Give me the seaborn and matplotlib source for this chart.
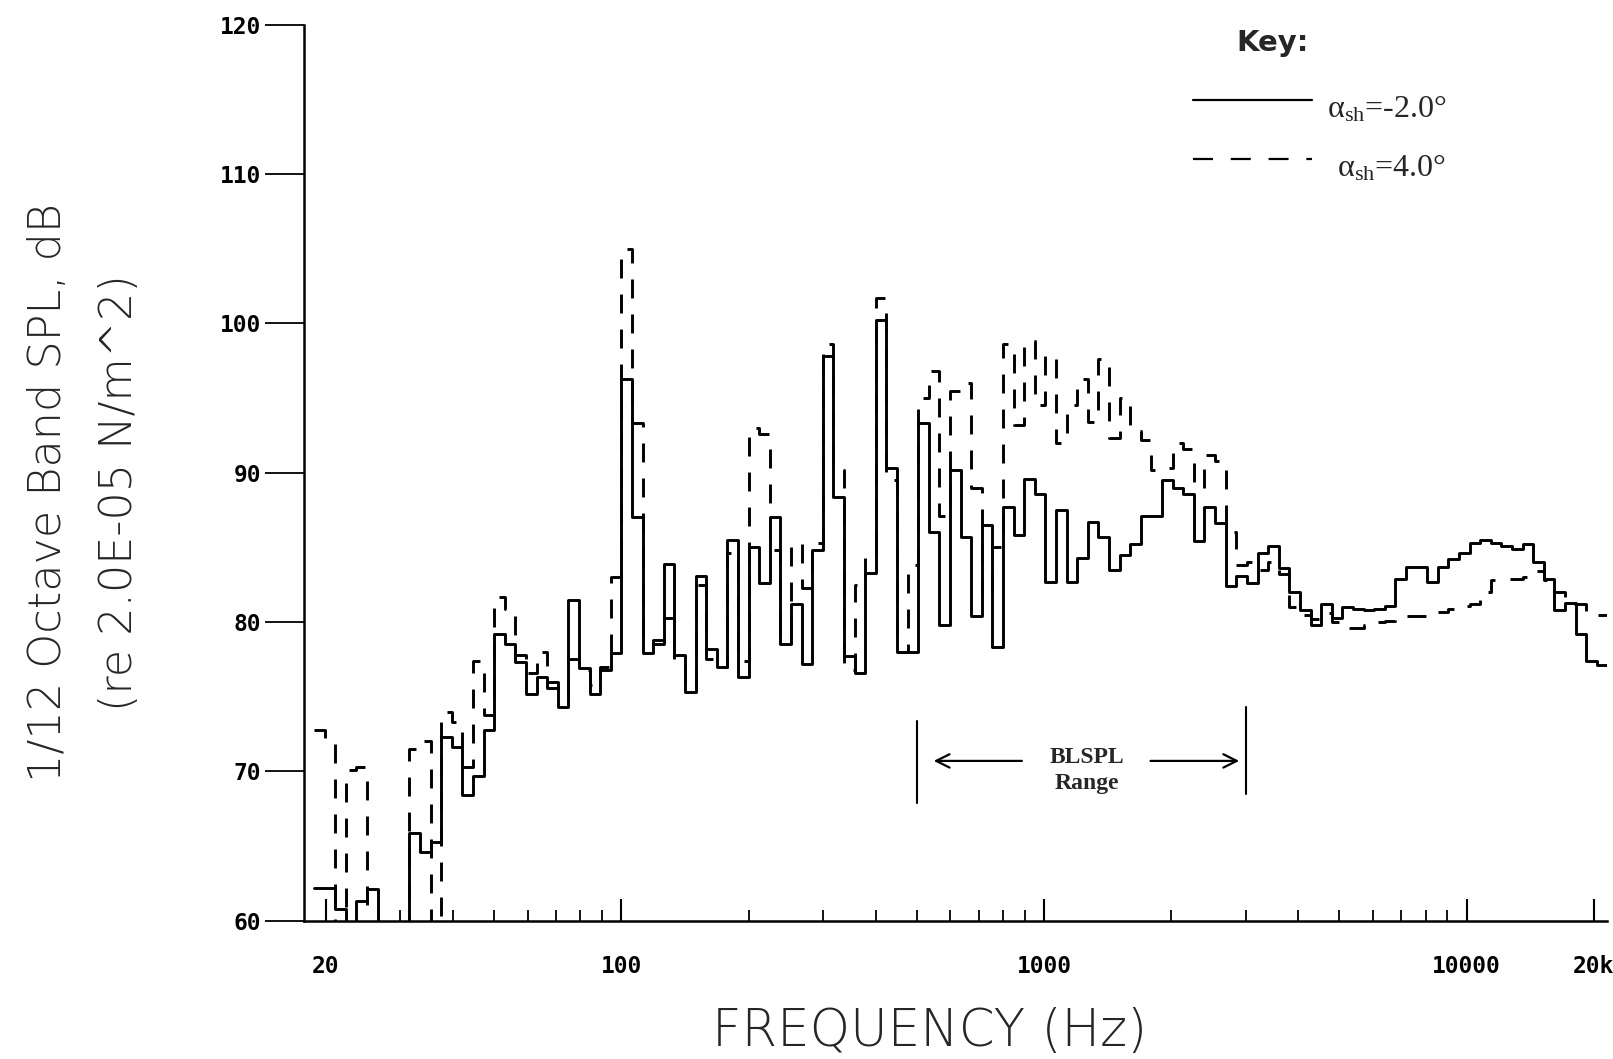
import numpy as np
import pandas as pd
import matplotlib
matplotlib.use("Agg")
import matplotlib.pyplot as plt
from matplotlib import font_manager
from matplotlib.lines import Line2D
import seaborn as sns

# ---------------- data (1/12-octave bands, band 29 starts at 100 Hz) ----------------
band_index = np.arange(122)
spl_m2 = [62.2, 62.2, 60.8, 55, 61.3, 62.1, 55, 55, 55, 65.9,
          64.6, 65.3, 72.3, 71.6, 68.4, 69.7, 72.8, 79.2, 78.5, 77.3,
          75.2, 76.3, 75.6, 74.3, 81.5, 76.9, 75.2, 76.8, 77.9, 96.3,
          87.0, 77.9, 78.5, 83.9, 77.8, 75.3, 83.1, 78.2, 77.0, 85.5,
          76.3, 85.0, 82.6, 87.0, 78.5, 81.2, 77.2, 84.8, 97.8, 88.4,
          77.7, 76.6, 83.3, 100.2, 90.3, 78.0, 78.0, 93.3, 86.0, 79.8,
          90.2, 85.7, 80.4, 86.5, 78.3, 87.7, 85.8, 89.6, 88.6, 82.7,
          87.5, 82.7, 84.3, 86.7, 85.7, 83.5, 84.5, 85.2, 87.1, 87.1,
          89.5, 89.0, 88.6, 85.4, 87.7, 86.6, 82.4, 83.1, 82.6, 84.6,
          85.1, 83.6, 82.0, 80.8, 79.8, 81.2, 80.3, 81.0, 80.9, 80.8,
          80.9, 81.1, 82.9, 83.7, 83.7, 82.7, 83.7, 84.2, 84.6, 85.3,
          85.5, 85.3, 85.1, 84.9, 85.2, 84.0, 82.9, 80.8, 81.3, 79.2,
          77.4, 77.1]
spl_p4 = [72.8, 71.9, 55, 70.1, 70.3, 55, 55, 55, 55, 71.5,
          72.0, 55, 74.0, 73.3, 70.3, 77.4, 73.8, 81.7, 80.9, 77.8,
          76.6, 78.0, 76.0, 75.0, 77.5, 76.8, 75.8, 77.0, 83.0, 105.0,
          93.3, 78.5, 78.8, 80.3, 77.5, 75.6, 82.5, 77.5, 77.0, 84.6,
          77.4, 93.0, 92.6, 84.8, 79.0, 85.3, 82.3, 85.3, 98.6, 90.2,
          76.8, 82.5, 84.6, 101.7, 89.5, 78.0, 83.8, 95.0, 96.8, 87.1,
          95.5, 96.0, 89.0, 81.6, 85.0, 98.6, 93.2, 98.8, 94.5, 97.9,
          92.0, 94.5, 96.3, 93.4, 97.6, 92.3, 95.0, 92.8, 92.2, 90.2,
          90.3, 92.0, 91.6, 89.0, 91.2, 90.8, 86.0, 83.8, 84.0, 83.5,
          84.0, 83.2, 81.0, 80.5, 80.2, 80.6, 80.0, 79.6, 79.6, 79.8,
          80.0, 80.1, 80.4, 80.4, 80.4, 80.4, 80.7, 80.9, 81.1, 81.2,
          82.0, 82.8, 82.9, 82.9, 83.0, 83.4, 82.8, 82.0, 81.2, 81.2,
          80.5, 80.5]
xtick_vals = [20, 100, 1000, 10000, 20000]
xtick_labels = ["20", "100", "1000", "10000", "20k"]
ytick_vals = [60, 70, 80, 90, 100, 110, 120]
blspl_lo, blspl_hi = 500, 3000
legend_labels = ["α$_{\\rm sh}$=-2.0°", "α$_{\\rm sh}$=4.0°"]

# band lower edges (1/12 octave), plus a closing edge for the step plot
edges = 100.0 * 2.0 ** ((np.arange(len(band_index) + 1) - 29) / 12.0)

def step_frame(vals):
    return pd.DataFrame({"freq": edges, "spl": list(vals) + [vals[-1]]})

df_m2 = step_frame(spl_m2)
df_p4 = step_frame(spl_p4)

# ---------------- style ----------------
sns.set_style("white")
names = {f.name for f in font_manager.fontManager.ttflist}
narrow = "Liberation Sans Narrow" in names
label_family = ["Liberation Sans Narrow", "DejaVu Sans"] if narrow else ["DejaVu Sans"]
plt.rcParams["font.family"] = ["DejaVu Sans"]
plt.rcParams["mathtext.fontset"] = "custom"
plt.rcParams["mathtext.rm"] = "Liberation Serif"
plt.rcParams["mathtext.it"] = "Liberation Serif:italic"

fig = plt.figure(figsize=(16.13, 10.59), dpi=100)
ax = fig.add_axes([0.1885, 0.1306, 0.8075, 0.8461])

sns.lineplot(data=df_m2, x="freq", y="spl", ax=ax, color="black", lw=2.1,
             drawstyle="steps-post", estimator=None, sort=False)
sns.lineplot(data=df_p4, x="freq", y="spl", ax=ax, color="black", lw=2.1,
             drawstyle="steps-post", estimator=None, sort=False,
             linestyle=(0, (6.5, 5.5)))

ax.set_xscale("log")
ax.set_xlim(17.75, 21430)
ax.set_ylim(60, 120)
ax.set_xlabel("")
ax.set_ylabel("")
for s in ["top", "right"]:
    ax.spines[s].set_visible(False)
for s in ["left", "bottom"]:
    ax.spines[s].set_linewidth(1.8)
    ax.spines[s].set_color("black")

ax.set_xticks(xtick_vals)
ax.set_xticklabels(xtick_labels)
ax.xaxis.set_minor_locator(matplotlib.ticker.LogLocator(base=10, subs=np.arange(2, 10), numticks=50))
ax.xaxis.set_minor_formatter(matplotlib.ticker.NullFormatter())
ax.set_yticks(ytick_vals)
ax.set_yticklabels([str(v) for v in ytick_vals])

ax.tick_params(axis="x", which="major", direction="in", length=16, width=1.5, pad=25, colors="black")
ax.tick_params(axis="x", which="minor", direction="in", length=8, width=1.3, colors="black")
ax.tick_params(axis="y", which="major", direction="out", length=28, width=1.3, pad=3, colors="black")
ax.tick_params(bottom=True, left=True, which="both")
for lab in ax.get_xticklabels() + ax.get_yticklabels():
    lab.set_fontfamily(["DejaVu Sans Mono", "DejaVu Sans"])
    lab.set_fontweight("bold")
    lab.set_fontsize(16.5)

# axis titles
lab_size = 37 if narrow else 32
fig.text(0.030, 0.535, "1/12 Octave Band SPL, dB", rotation=90, ha="center", va="center",
         family=label_family, fontsize=lab_size, fontweight="light")
fig.text(0.074, 0.535, "(re 2.0E-05 N/m^2)", rotation=90, ha="center", va="center",
         family=label_family, fontsize=lab_size, fontweight="light")
fig.text(0.576, 0.0255, "FREQUENCY (Hz)", ha="center", va="center",
         family=label_family, fontsize=(40 if narrow else 37), fontweight="light")

# key
fig.text(0.789, 0.959, "Key:", ha="center", va="center", fontsize=21, fontweight="bold",
         family=["DejaVu Sans"])
fig.add_artist(Line2D([1193 / 1613, 1312 / 1613], [0.9056, 0.9056], color="black", lw=1.6))
fig.add_artist(Line2D([1193 / 1613, 1312 / 1613], [0.8494, 0.8494], color="black", lw=1.6,
                      linestyle=(0, (9, 8))))
fig.text(1327 / 1613, 0.8895, legend_labels[0], ha="left", va="baseline", fontsize=23,
         family=["Liberation Serif", "DejaVu Serif"])
fig.text(1337 / 1613, 0.8338, legend_labels[1], ha="left", va="baseline", fontsize=23,
         family=["Liberation Serif", "DejaVu Serif"])

# BLSPL range annotation
ax.plot([blspl_lo, blspl_lo], [67.9, 73.4], color="black", lw=1.5)
ax.plot([blspl_hi, blspl_hi], [68.5, 74.3], color="black", lw=1.5)
ax.annotate("", xy=(blspl_lo * 1.08, 70.7), xytext=(900, 70.7),
            arrowprops=dict(arrowstyle="->", lw=1.6, color="black", mutation_scale=24))
ax.annotate("", xy=(blspl_hi * 0.98, 70.7), xytext=(1760, 70.7),
            arrowprops=dict(arrowstyle="->", lw=1.6, color="black", mutation_scale=24))
ax.text(1265, 70.9, "BLSPL", ha="center", va="center", fontsize=17, fontweight="bold",
        family=["Liberation Serif", "DejaVu Serif"])
ax.text(1265, 69.2, "Range", ha="center", va="center", fontsize=17, fontweight="bold",
        family=["Liberation Serif", "DejaVu Serif"])

fig.savefig("out.png", dpi=100)
